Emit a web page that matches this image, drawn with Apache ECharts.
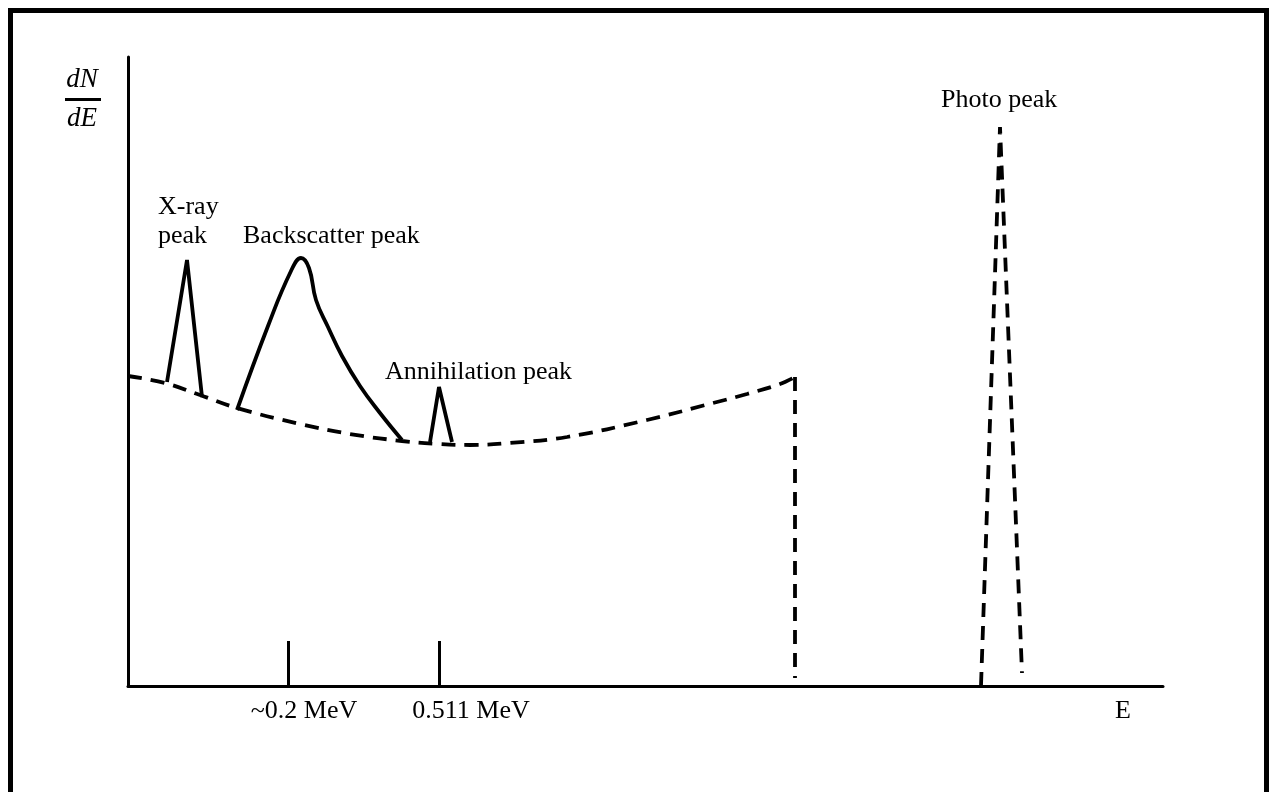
<!DOCTYPE html>
<html>
<head>
<meta charset="utf-8">
<script src="https://cdn.jsdelivr.net/npm/echarts@6/dist/echarts.min.js"></script>
<style>html,body{margin:0;padding:0;background:#fff;}#c{width:1270px;height:792px;}</style>
</head>
<body>
<div id="c"></div>
<script>
// Schematic gamma-ray spectrum (arbitrary units: energy on x, dN/dE on y)
const comptonContinuum = [[0,310],[37,303],[72,291],[109,278],[172,262],[222,252],[274,245],[312,242],[342,241],[382,243],[439,249],[519,266],[585,283],[619,292],[652,302],[667,309]];
const comptonEdge = [[667,309],[667,8]];
const xrayPeak = [[39,304],[59,426],[74,289]];
const backscatterPeak = [[109,276],[140,360],[163,415],[173,428],[181,418],[188,386],[200,359],[214,330],[232,300],[252,273],[274,246]];
const annihilationPeak = [[302,244],[311,299],[324,244]];
const photoPeak = [[853,0],[872,559],[894,13]];
const tickValues = [160, 311];
const tickLabelValues = [176, 343, 995];
const tickLabels = ['~0.2 MeV', '0.511 MeV', 'E'];

const chart = echarts.init(document.getElementById('c'));
const serif = '"Liberation Serif", "Times New Roman", serif';
const solid = {color:'#000', width:3.8, type:'solid'};
const dashed = {color:'#000', width:3.8, type:[14,9]};
function line(data, style, smooth){
  return {type:'line', data:data, symbol:'none', smooth:smooth||false, lineStyle:style, silent:true, z:3};
}
chart.setOption({
  animation:false,
  backgroundColor:'#fff',
  grid:{left:128, right:107, top:57, bottom:106},
  xAxis:{type:'value', min:0, max:1035,
    axisLine:{show:true, lineStyle:{color:'#000', width:3}},
    splitLine:{show:false},
    axisTick:{show:true, inside:true, length:45, customValues:tickValues, lineStyle:{color:'#000', width:3}},
    axisLabel:{show:true, customValues:tickLabelValues, margin:12, color:'#000', fontFamily:serif, fontSize:26,
      formatter:function(v){ const i = tickLabelValues.indexOf(v); return i>=0 ? tickLabels[i] : ''; }}
  },
  yAxis:{type:'value', min:0, max:629,
    axisLine:{show:true, lineStyle:{color:'#000', width:3}},
    axisTick:{show:false}, axisLabel:{show:false}, splitLine:{show:false}
  },
  series:[
    line(comptonContinuum, dashed, 0.4),
    line(comptonEdge, dashed),
    line(xrayPeak, solid),
    line(backscatterPeak, solid, 0.45),
    line(annihilationPeak, solid),
    line(photoPeak, dashed)
  ],
  graphic:[
    {type:'rect', shape:{x:10.5, y:10.5, width:1256, height:820}, style:{fill:'none', stroke:'#000', lineWidth:5}, silent:true},
    {type:'text', x:82, y:80, style:{text:'dN', font:'italic 27px '+serif, fill:'#000', align:'center', verticalAlign:'middle'}},
    {type:'line', shape:{x1:65, y1:99.5, x2:101, y2:99.5}, style:{stroke:'#000', lineWidth:3}},
    {type:'text', x:82, y:119, style:{text:'dE', font:'italic 27px '+serif, fill:'#000', align:'center', verticalAlign:'middle'}},
    {type:'text', x:158, y:207, style:{text:'X-ray', font:'26px '+serif, fill:'#000', verticalAlign:'middle'}},
    {type:'text', x:158, y:236, style:{text:'peak', font:'26px '+serif, fill:'#000', verticalAlign:'middle'}},
    {type:'text', x:243, y:236, style:{text:'Backscatter peak', font:'26px '+serif, fill:'#000', verticalAlign:'middle'}},
    {type:'text', x:385, y:372, style:{text:'Annihilation peak', font:'26px '+serif, fill:'#000', verticalAlign:'middle'}},
    {type:'text', x:941, y:100, style:{text:'Photo peak', font:'26px '+serif, fill:'#000', verticalAlign:'middle'}}
  ]
});
</script>
</body>
</html>
